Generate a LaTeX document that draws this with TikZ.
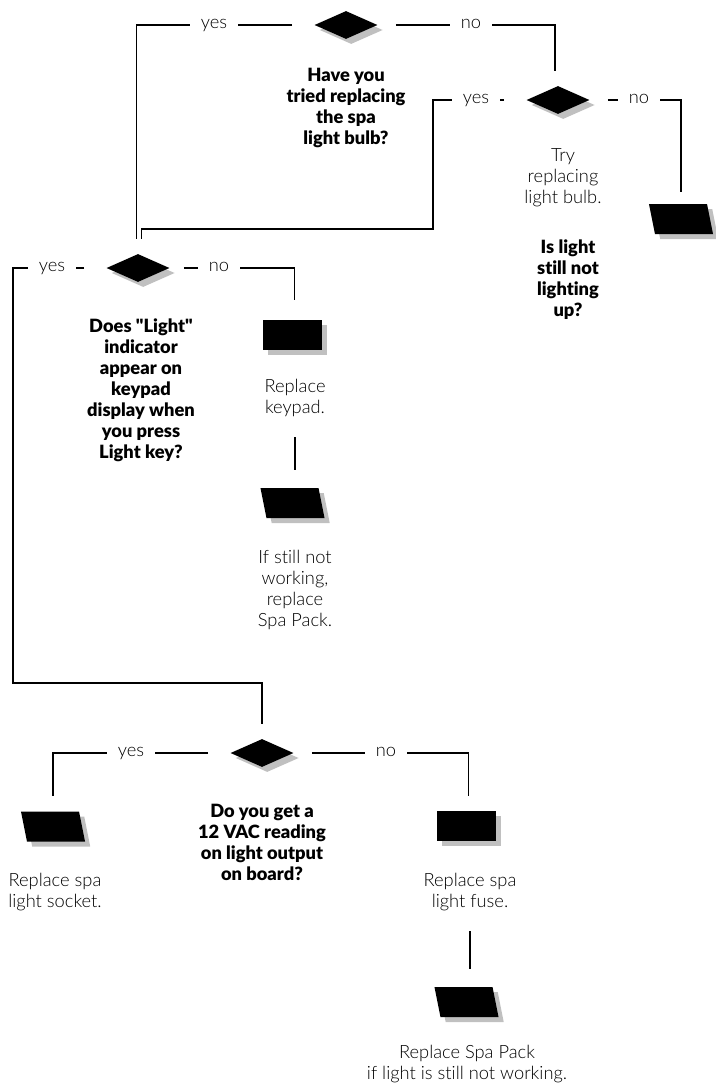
\documentclass[tikz,border=0pt]{standalone}
\usepackage{fontspec}
\IfFontExistsTF{Lato Light}
  {\IfFontExistsTF{Lato Black}
    {\setmainfont{Lato Light}[BoldFont={Lato Black},Ligatures={TeXOff,NoCommon}]}
    {\setmainfont{Lato Light}[BoldFont={Lato Bold},Ligatures={TeXOff,NoCommon}]}}
  {\setmainfont{Lato}[Ligatures={TeXOff,NoCommon}]}
\usetikzlibrary{shapes.geometric,shadows}
\definecolor{sombra}{RGB}{192,192,192}

\begin{document}
\begin{tikzpicture}[x=0.025cm,y=-0.025cm,
    sombreado/.style={drop shadow={shadow xshift=0.13cm,shadow yshift=-0.125cm,fill=sombra,opacity=1}},
    decision/.style={diamond,fill=black,inner sep=0pt,minimum width=1.575cm,minimum height=0.7cm,sombreado},
    accion/.style={rectangle,fill=black,inner sep=0pt,minimum width=1.475cm,minimum height=0.75cm,sombreado},
    salida/.style={rectangle,xslant=-0.2,transform shape,fill=black,inner sep=0pt,
      minimum width=1.45cm,minimum height=0.75cm,sombreado},
    texto/.style={align=center,inner sep=0pt,font=\fontsize{13}{14.9}\selectfont},
    pregunta/.style={texto,font=\fontsize{13}{14.9}\selectfont\bfseries},
    rama/.style={fill=white,anchor=mid,inner xsep=0.27cm,inner ysep=0.1cm,font=\fontsize{13}{14.9}\selectfont},
    linea/.style={line width=0.8pt,shorten <=0.55cm,shorten >=0.375cm},
    separa/.style={line width=0.8pt,shorten <=0.5cm,shorten >=0.44cm}]
  \useasboundingbox (0,0) rectangle (716,1086);
  % Decisiones
  \node[decision] (d1) at (346,25) {};
  \node[decision] (d2) at (558,100) {};
  \node[decision] (d3) at (138,268) {};
  \node[decision] (d4) at (262,753) {};
  % Acciones
  \node[salida] (s1) at (681,219) {};
  \node[accion] (a1) at (292.5,335) {};
  \node[salida] (s2) at (292.5,503) {};
  \node[salida] (s3) at (53,826.5) {};
  \node[accion] (a2) at (466.5,826) {};
  \node[salida] (s4) at (466.5,1002) {};
  % Textos
  \node[pregunta] (p1) at (346,108) {Have you\\tried replacing\\the spa\\light bulb?};
  \node[texto] (t1) at (563,178) {Try\\replacing\\light bulb.};
  \node[pregunta] (p2) at (568,280) {Is light\\still not\\lighting\\up?};
  \node[pregunta] (p3) at (141,390) {Does "Light"\\indicator\\appear on\\keypad\\display when\\you press\\Light key?};
  \node[texto] (t2) at (295,398) {Replace\\keypad.};
  \node[texto] (t3) at (295,590) {If still not\\working,\\replace\\Spa Pack.};
  \node[pregunta] (p4) at (262,842) {Do you get a\\12 VAC reading\\on light output\\on board?};
  \node[texto] (t4) at (55,892) {Replace spa\\light socket.};
  \node[texto] (t5) at (470,892) {Replace spa\\light fuse.};
  \node[texto] (t6) at (467,1064) {Replace Spa Pack\\if light is still not working.};
  % Conexiones
  \coordinate (k1) at (433,229);
  \coordinate (k2) at (13,683);
  \draw[linea] (d1) -| ([xshift=-0.03cm]d3.north);
  \draw[linea,shorten <=0.45cm] (d1) -| ([xshift=-0.075cm]d2.north);
  \draw[linea] (d2) -| (k1) -| ([xshift=0.08cm]d3.north);
  \draw[linea,shorten <=0.45cm,shorten >=0.3cm] (d2) -| (s1);
  \draw[linea] (d3) -| (k2) -| (d4);
  \draw[linea,shorten <=0.35cm,shorten >=0.5cm] (d3) -| ([xshift=0.06cm]a1.north);
  \draw[separa] (t2.south) -- (t2.south |- s2.north);
  \draw[linea] (d4) -| (s3);
  \draw[linea,shorten <=0.45cm] (d4) -| ([xshift=0.06cm]a2.north);
  \draw[separa] (t5.south) -- (t5.south |- s4.north);
  % Etiquetas
  \node[rama] (r1) at (214,25) {yes};
  \node[rama] (r2) at (471,25) {no};
  \node[rama] (r3) at (476,100) {yes};
  \node[rama] (r4) at (639,100) {no};
  \node[rama] (r5) at (52,268) {yes};
  \node[rama] (r6) at (219,268) {no};
  \node[rama] (r7) at (131,753) {yes};
  \node[rama] (r8) at (386,753) {no};
\end{tikzpicture}
\end{document}
